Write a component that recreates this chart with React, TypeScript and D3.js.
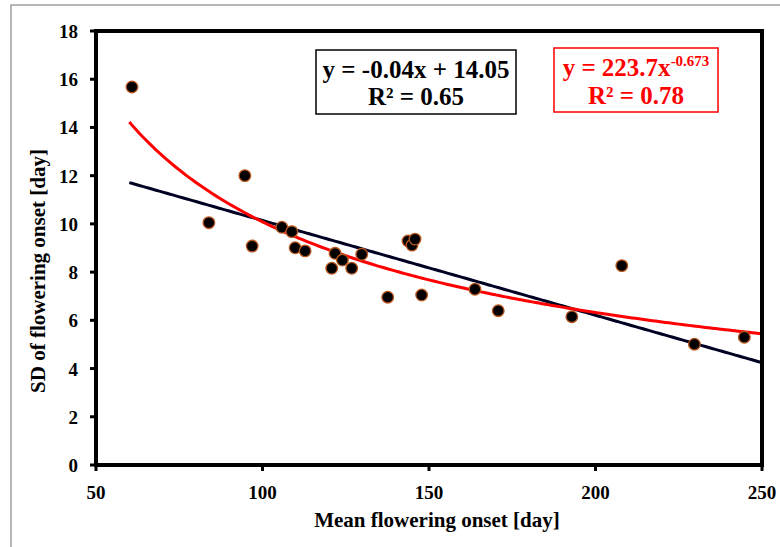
import React from "react";
import * as d3 from "d3";

const meanOnset = [60.8, 83.9, 94.7, 96.9, 105.8, 108.8, 109.8, 112.8, 121.8, 124.0, 120.8, 126.8, 129.8, 137.6, 143.7, 144.9, 145.8, 147.8, 163.8, 170.8, 192.9, 207.9, 229.7, 244.7];
const sdOnset = [15.68, 10.05, 12.0, 9.08, 9.86, 9.68, 9.01, 8.88, 8.78, 8.5, 8.16, 8.16, 8.74, 6.96, 9.29, 9.12, 9.37, 7.05, 7.29, 6.4, 6.15, 8.27, 5.01, 5.3];
const xTicks = [50, 100, 150, 200, 250];
const yTicks = [0, 2, 4, 6, 8, 10, 12, 14, 16, 18];
const linSlope = -0.0393;
const linIntercept = 14.07;
const powA = 223.7;
const powB = -0.673;
const fitStart = 60;
const fitEnd = 250;

const W = 780, H = 547;
const M = { left: 96, right: 762, top: 31, bottom: 465 };
const font = "'Liberation Serif', 'Times New Roman', serif";

export default function App() {
  const x = d3.scaleLinear().domain([50, 250]).range([M.left, M.right]);
  const y = d3.scaleLinear().domain([0, 18]).range([M.bottom, M.top]);
  const fitXs = d3.range(fitStart, fitEnd + 0.001, 1);
  const lineGen = d3.line<number>().x((d) => x(d));
  const linPath = lineGen.y((d) => y(linIntercept + linSlope * d))(fitXs) || "";
  const powPath = d3.line<number>().x((d) => x(d)).y((d) => y(powA * Math.pow(d, powB))).curve(d3.curveMonotoneX)(fitXs) || "";

  return (
    <svg width={W} height={H} style={{ position: "absolute", left: 0, top: 0, background: "#fff" }} fontFamily={font}>
      <rect x={11} y={5} width={800} height={600} fill="none" stroke="#888" strokeWidth={1.2} />
      {/* ticks */}
      {yTicks.map((t) => (
        <g key={"y" + t}>
          <line x1={M.left - 6} x2={M.left} y1={y(t)} y2={y(t)} stroke="#000" strokeWidth={3} />
          <text x={78} y={y(t) + 7} textAnchor="end" fontSize={19} fontWeight="bold">{t}</text>
        </g>
      ))}
      {xTicks.map((t) => (
        <g key={"x" + t}>
          <line x1={x(t)} x2={x(t)} y1={M.bottom} y2={M.bottom + 6} stroke="#000" strokeWidth={3} />
          <text x={x(t)} y={499} textAnchor="middle" fontSize={19} fontWeight="bold">{t}</text>
        </g>
      ))}
      {/* fits */}
      <path d={linPath} fill="none" stroke="#000022" strokeWidth={3} />
      <path d={powPath} fill="none" stroke="#ff0000" strokeWidth={3} />
      {/* points */}
      {meanOnset.map((mx, i) => (
        <circle key={i} cx={x(mx)} cy={y(sdOnset[i])} r={5.8} fill="#000" stroke="#b8561e" strokeWidth={1.3} />
      ))}
      {/* frame */}
      <rect x={M.left} y={M.top} width={M.right - M.left} height={M.bottom - M.top} fill="none" stroke="#000" strokeWidth={4} />
      {/* equation boxes */}
      <rect x={316} y={50} width={200} height={64} fill="#fff" stroke="#000" strokeWidth={1.5} />
      <text x={416} y={78} textAnchor="middle" fontSize={25} fontWeight="bold">y = -0.04x + 14.05</text>
      <text x={416} y={105} textAnchor="middle" fontSize={25} fontWeight="bold">R² = 0.65</text>
      <rect x={554} y={48} width={164} height={64} fill="#fff" stroke="#ff0000" strokeWidth={1.5} />
      <text x={636} y={76} textAnchor="middle" fontSize={25} fontWeight="bold" fill="#ff0000">
        y = 223.7x<tspan fontSize={15} dy={-10}>-0.673</tspan>
      </text>
      <text x={636} y={104} textAnchor="middle" fontSize={25} fontWeight="bold" fill="#ff0000">R² = 0.78</text>
      {/* axis titles */}
      <text x={437} y={527} textAnchor="middle" fontSize={21} fontWeight="bold">Mean flowering onset [day]</text>
      <text transform="translate(45,271) rotate(-90)" textAnchor="middle" fontSize={21} fontWeight="bold">SD of flowering onset [day]</text>
    </svg>
  );
}
